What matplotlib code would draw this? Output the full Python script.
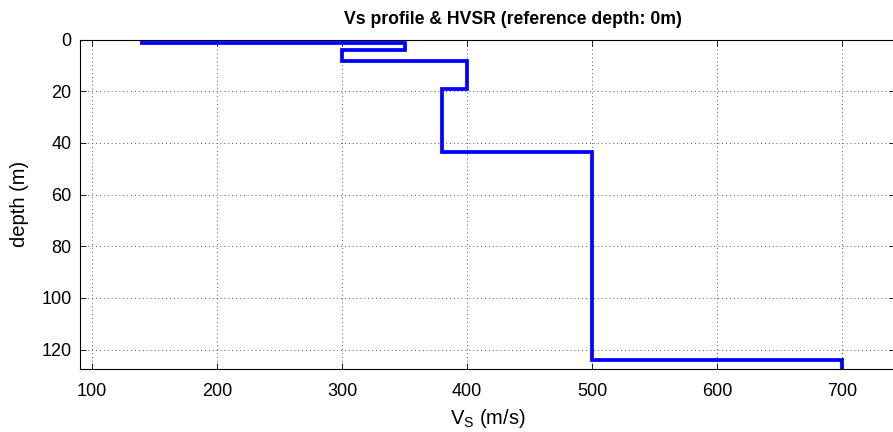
import matplotlib.pyplot as plt

plt.rcParams['font.family'] = ['Liberation Sans', 'DejaVu Sans']

# layer tops (m) and shear-wave velocities (m/s), last value is the half-space
depth_tops = [0, 1.5, 4, 8.5, 19, 43.5, 124]
vs = [140, 350, 300, 400, 380, 500, 700]
depth_max = 127.5

# build the step profile
xs, ys = [], []
bottoms = depth_tops[1:] + [depth_max]
for v, top, bot in zip(vs, depth_tops, bottoms):
    xs += [v, v]
    ys += [top, bot]

fig = plt.figure(figsize=(8.93, 4.32), dpi=100)
W, H = 893, 432
ax = fig.add_axes([80 / W, 1 - 369 / H, 815 / W, (369 - 39.5) / H])

ax.plot(xs, ys, color='#0000ff', linewidth=2.7, solid_joinstyle='miter')

ax.set_xlim(90.6, 742)
ax.set_ylim(depth_max, 0)
ax.set_xticks([100, 200, 300, 400, 500, 600, 700])
ax.set_yticks([0, 20, 40, 60, 80, 100, 120])
ax.grid(True, linestyle=(0, (1, 3)), color='#555555', linewidth=0.7)
ax.tick_params(direction='in', top=True, right=True, labelsize=13, length=4,
               width=0.6)
ax.tick_params(axis='x', pad=10)
ax.tick_params(axis='y', pad=6)
for s in ax.spines.values():
    s.set_linewidth(0.8)

ax.set_title('Vs profile & HVSR (reference depth: 0m)', fontsize=12.7,
             fontweight='bold', x=(513 - 80) / 815, pad=11)
ax.set_xlabel(r'V$_\mathregular{S}$ (m/s)', fontsize=14.5)
ax.xaxis.set_label_coords(0.5, -0.115)
ax.set_ylabel('depth (m)', fontsize=14.5)
ax.yaxis.set_label_coords(-0.063, 0.5)

fig.savefig('out.png', dpi=100)
